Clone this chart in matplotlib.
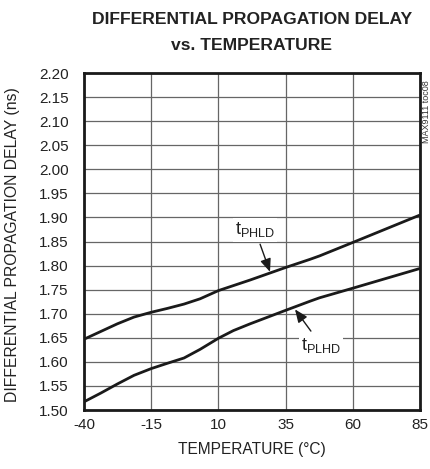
import matplotlib.pyplot as plt
import numpy as np

plt.rcParams['font.family'] = ['Liberation Sans', 'DejaVu Sans']

# values
temp_phld = [-40, -33.8, -27.6, -21.4, -15, -9, -2.8, 3.2, 10, 21.8, 35, 44.1, 47.6, 60, 85]
tphld = [1.647, 1.663, 1.679, 1.693, 1.703, 1.711, 1.720, 1.731, 1.748, 1.770,
         1.796, 1.813, 1.820, 1.848, 1.905]
temp_plhd = [-40, -33.8, -27.6, -21.4, -15, -9, -2.8, 3.2, 10, 15.6, 21.8, 35, 44.1, 47.6, 60, 85]
tplhd = [1.517, 1.535, 1.554, 1.572, 1.586, 1.597, 1.608, 1.626, 1.649, 1.665, 1.679,
         1.707, 1.726, 1.733, 1.753, 1.794]

xticks = [-40, -15, 10, 35, 60, 85]
yticks = np.arange(1.50, 2.2001, 0.05)

fig = plt.figure(figsize=(4.31, 4.69), dpi=100)
ax = fig.add_axes([84/431, 1-410/469, 336/431, 337/469])

ax.plot(temp_phld, tphld, color='#1a1a1a', lw=2.0, solid_capstyle='butt')
ax.plot(temp_plhd, tplhd, color='#1a1a1a', lw=2.0, solid_capstyle='butt')

ax.set_xlim(-40, 85)
ax.set_ylim(1.50, 2.20)
ax.set_xticks(xticks)
ax.set_xticklabels([str(t) for t in xticks])
ax.set_yticks(yticks)
ax.set_yticklabels(['%.2f' % v for v in yticks])
ax.tick_params(length=0, labelsize=11, colors='#222222')
ax.tick_params(axis='y', pad=11)
ax.tick_params(axis='x', pad=6)
ax.grid(True, color='#666666', lw=0.9)
ax.set_axisbelow(True)
for s in ax.spines.values():
    s.set_linewidth(2)
    s.set_color('#1a1a1a')

ax.set_xlabel('TEMPERATURE (°C)', fontsize=11.2, color='#222222', labelpad=7)
fig.text(13/431, 1-245/469, 'DIFFERENTIAL PROPAGATION DELAY (ns)', rotation=90,
         fontsize=11.3, ha='center', va='center', color='#222222')

fig.text(252/431, 1-19/469, 'DIFFERENTIAL PROPAGATION DELAY', fontsize=12.6,
         fontweight='bold', ha='center', va='center', color='#222222')
fig.text(252/431, 1-46/469, 'vs. TEMPERATURE', fontsize=12.6,
         fontweight='bold', ha='center', va='center', color='#222222')

arrow = dict(arrowstyle='-|>,head_length=0.6,head_width=0.25',
             color='#1a1a1a', lw=1.0, shrinkA=2, shrinkB=0)
ax.annotate(r't$_{\mathregular{PHLD}}$', xy=(29.2, 1.787), xytext=(23.6, 1.874),
            fontsize=13, ha='center', va='center', color='#222222',
            bbox=dict(boxstyle='square,pad=0.12', fc='white', ec='none'),
            arrowprops=arrow)
ax.annotate(r't$_{\mathregular{PLHD}}$', xy=(38.5, 1.709), xytext=(48.2, 1.635),
            fontsize=13, ha='center', va='center', color='#222222',
            bbox=dict(boxstyle='square,pad=0.12', fc='white', ec='none'),
            arrowprops=arrow)

fig.text(426.5/431, 1-112/469, 'MAX9111 toc08', rotation=90, fontsize=6.5,
         ha='center', va='center', color='#333333')

fig.savefig('out.png', dpi=100)
